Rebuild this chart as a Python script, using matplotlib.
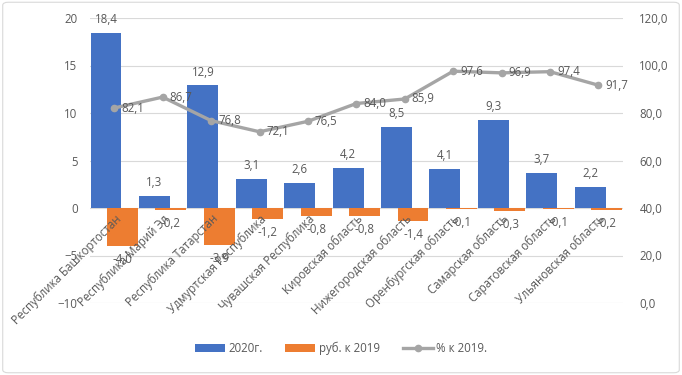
import numpy as np
import matplotlib.pyplot as plt
from matplotlib.patches import FancyBboxPatch

regions = ["Республика Башкортостан", "Республика Марий Эл", "Республика Татарстан",
           "Удмуртская Республика", "Чувашская Республика", "Кировская область",
           "Нижегородская область", "Оренбургская область", "Самарская область",
           "Саратовская область", "Ульяновская область"]
val_2020 = [18.4, 1.3, 12.9, 3.1, 2.6, 4.2, 8.5, 4.1, 9.3, 3.7, 2.2]
rub_2019 = [-4.0, -0.2, -3.9, -1.2, -0.8, -0.8, -1.4, -0.1, -0.3, -0.1, -0.2]
pct_2019 = [82.1, 86.7, 76.8, 72.1, 76.5, 84.0, 85.9, 97.6, 96.9, 97.4, 91.7]

blue = "#4472C4"
orange = "#ED7D31"
grey = "#A5A5A5"
txt = "#595959"

plt.rcParams['font.family'] = ['Open Sans', 'DejaVu Sans']
plt.rcParams['font.size'] = 8.3


def fmt(v):
    return f"{v:.1f}".replace(".", ",")


fig = plt.figure(figsize=(6.82, 3.75), dpi=100)
fig.patches.append(FancyBboxPatch((0.004, 0.006), 0.992, 0.988, boxstyle="round,pad=0,rounding_size=0.008",
                                  transform=fig.transFigure, fill=False, ec="#D9D9D9", lw=0.8))
ax = fig.add_axes([0.132, 0.192, 0.781, 0.760])
ax2 = ax.twinx()

x = np.arange(len(regions))
w = 0.64
off = 0.34
b1 = ax.bar(x - off / 2, val_2020, w, color=blue, label="2020г.", zorder=1.5)
b2 = ax.bar(x + off / 2, rub_2019, w, color=orange, label="руб. к 2019", zorder=1.8)

for xi, v in zip(x, val_2020):
    ax.annotate(fmt(v), (xi - off / 2, v), xytext=(0, 5), textcoords="offset points",
                ha="center", va="bottom", color=txt)
for xi, v in zip(x, rub_2019):
    ax.annotate(fmt(v), (xi + off / 2, v), xytext=(0, -5), textcoords="offset points",
                ha="center", va="top", color=txt)

yt = [-10, -5, 0, 5, 10, 15, 20]
ax.set_ylim(-10, 20)
ax.set_yticks(yt)
ax.set_xlim(-0.5, len(regions) - 0.5)
# gridlines drawn by hand so the category labels can sit above the bars
for t in yt:
    ax.axhline(t, color="#D9D9D9", lw=0.8, zorder=0.5)
ax.set_axisbelow(False)
ax.spines['bottom'].set_position(('data', 0))
for s in ax.spines.values():
    s.set_visible(False)
ax.tick_params(length=0, colors=txt)
ax.set_xticks(x)
ax.set_xticklabels(regions, rotation=45, ha="right", rotation_mode="anchor")
ax.tick_params(axis="x", pad=3)
ax.tick_params(axis="y", pad=9)

ln, = ax2.plot(x, pct_2019, color=grey, lw=2.4, marker="o", ms=4.5, label="% к 2019.")
for xi, v in zip(x, pct_2019):
    ax2.annotate(fmt(v), (xi, v), xytext=(5, 0), textcoords="offset points",
                 ha="left", va="center", color=txt)
ax2.set_ylim(0, 120)
ax2.set_yticks(range(0, 121, 20))
ax2.set_yticklabels([fmt(t) for t in range(0, 121, 20)])
for s in ax2.spines.values():
    s.set_visible(False)
ax2.tick_params(length=0, colors=txt, pad=12)

fig.legend(handles=[b1, b2, ln], loc="center", bbox_to_anchor=(0.5, 0.072), ncol=3,
           frameon=False, handlelength=2.6, columnspacing=2.0, handletextpad=0.3,
           labelcolor=txt)

fig.savefig("out.png", dpi=100)
